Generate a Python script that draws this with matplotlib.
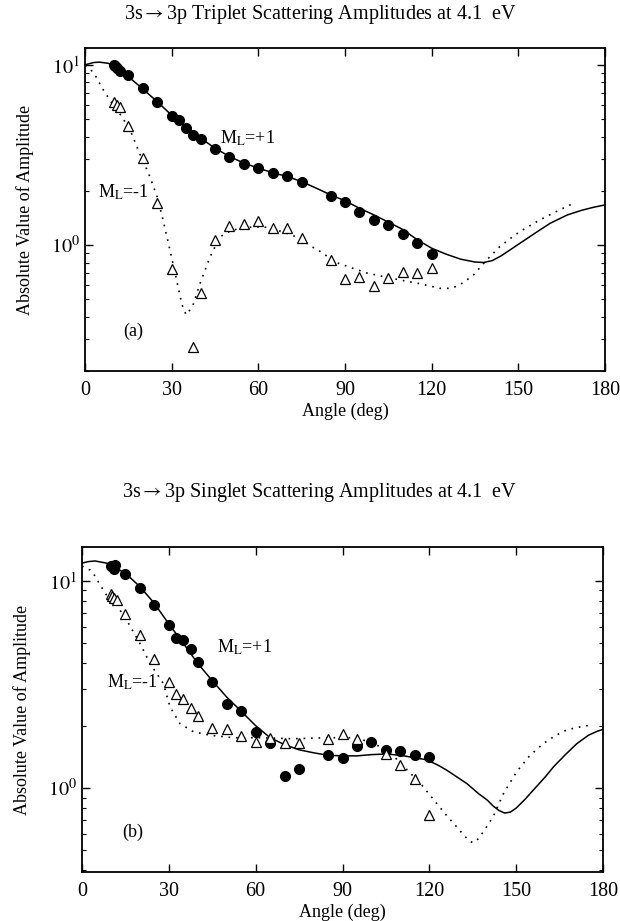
import numpy as np
import matplotlib
matplotlib.use("Agg")
import matplotlib.pyplot as plt
from matplotlib.ticker import LogLocator, NullFormatter, FixedLocator

plt.rcParams['font.family'] = ['Liberation Serif', 'DejaVu Serif']
plt.rcParams['mathtext.fontset'] = 'stix'

# ---------------- Panel (a): triplet ----------------
a_exp_p_x = [10, 10.5, 11, 12, 15, 20, 25, 30, 32.5, 35, 37.5, 40, 45, 50, 55, 60, 65, 70, 75,
             85, 90, 95, 100, 105, 110, 115, 120]
a_exp_p_y = [10.0, 9.8, 9.6, 9.2, 8.8, 7.42, 6.25, 5.23, 4.95, 4.45, 4.08, 3.87, 3.41, 3.09, 2.82,
             2.67, 2.52, 2.42, 2.25, 1.88, 1.73, 1.53, 1.37, 1.29, 1.15, 1.03, 0.89]
a_exp_m_x = [10, 11, 12, 15, 20, 25, 30, 37.5, 40, 45, 50, 55, 60, 65, 70, 75, 85, 90, 95, 100,
             105, 110, 115, 120]
a_exp_m_y = [6.25, 6.0, 5.8, 4.58, 3.03, 1.72, 0.74, 0.272, 0.54, 1.07, 1.27, 1.31, 1.36, 1.25,
             1.24, 1.10, 0.83, 0.645, 0.667, 0.59, 0.653, 0.71, 0.70, 0.75]
a_th_p_x = [0, 3, 5, 8, 10, 12, 15, 20, 25, 30, 35, 40, 45, 50, 55, 60, 65, 70, 75, 80, 85, 90,
            95, 100, 105, 110, 115, 120, 125, 130, 135, 138, 141, 144, 148, 152, 156, 161, 167,
            172, 176, 180]
a_th_p_y = [10.0, 10.3, 10.35, 10.2, 9.9, 9.4, 8.6, 7.35, 6.25, 5.25, 4.5, 3.92, 3.45, 3.1, 2.85,
            2.67, 2.52, 2.40, 2.25, 2.07, 1.9, 1.76, 1.60, 1.47, 1.34, 1.22, 1.07, 0.96, 0.89,
            0.835, 0.805, 0.80, 0.82, 0.87, 0.96, 1.06, 1.17, 1.32, 1.47, 1.56, 1.62, 1.67]
a_th_m_x = [0, 2, 4, 6, 8, 10, 13, 16, 19, 22, 25, 27, 29.4, 31.7, 33.5, 35, 36.5, 37.5, 39.8,
            43.3, 46.7, 50, 53.6, 58, 62, 66.4, 70, 74.4, 78, 82.5, 86, 92, 97.5, 103, 109, 116,
            122.9, 126, 128.7, 131, 134.4, 139, 143.6, 147, 150.6, 157.5, 163, 167.9, 170]
a_th_m_y = [9.9, 9.4, 8.5, 7.4, 6.6, 5.9, 5.1, 4.2, 3.2, 2.5, 1.85, 1.38, 0.94, 0.64, 0.47, 0.41,
            0.44, 0.47, 0.61, 0.86, 1.11, 1.19, 1.24, 1.26, 1.26, 1.21, 1.16, 1.09, 0.99, 0.90, 0.81,
            0.75, 0.70, 0.67, 0.64, 0.61, 0.575, 0.575, 0.59, 0.62, 0.68, 0.825, 0.98, 1.08, 1.19,
            1.38, 1.53, 1.67, 1.72]

# ---------------- Panel (b): singlet ----------------
b_exp_p_x = [10, 10.5, 11.5, 11, 15, 20, 25, 30, 32.5, 35, 37.5, 40, 45, 50, 55, 60, 65, 70, 75,
             85, 90, 95, 100, 105, 110, 115, 120]
b_exp_p_y = [11.8, 11.8, 11.9, 11.4, 10.8, 9.3, 7.65, 6.13, 5.28, 5.19, 4.7, 4.08, 3.25, 2.56,
             2.36, 1.87, 1.65, 1.14, 1.24, 1.44, 1.40, 1.60, 1.67, 1.53, 1.51, 1.44, 1.42]
b_exp_m_x = [10, 10.5, 11, 12, 15, 20, 25, 30, 32.5, 35, 37.5, 40, 45, 50, 55, 60, 65, 70, 75,
             85, 90, 95, 105, 110, 115, 120]
b_exp_m_y = [8.7, 8.5, 8.3, 8.1, 6.93, 5.48, 4.18, 3.26, 2.86, 2.7, 2.43, 2.24, 1.96, 1.92, 1.78,
             1.67, 1.75, 1.65, 1.65, 1.72, 1.82, 1.72, 1.46, 1.29, 1.11, 0.74]
b_th_p_x = [0, 2, 4.5, 8.5, 10, 15, 20, 25, 30, 35, 40, 45, 50, 55, 60, 65, 70, 75,
            80, 85, 90, 95, 100, 105, 110, 115, 119, 123, 126, 130, 133, 137, 140, 142, 144, 146,
            148, 150, 153, 156, 160, 163, 167, 171, 175, 178, 180]
b_th_p_y = [12.2, 12.4, 12.5, 12.2, 11.9, 10.9, 9.4, 7.8, 6.2, 5.0, 4.0, 3.3, 2.75,
            2.35, 2.0, 1.75, 1.62, 1.53, 1.48, 1.44, 1.43, 1.43, 1.45, 1.46, 1.44, 1.40, 1.37,
            1.29, 1.22, 1.12, 1.05, 0.94, 0.875, 0.82, 0.78, 0.757, 0.765, 0.80, 0.88, 0.98, 1.13,
            1.27, 1.45, 1.64, 1.80, 1.88, 1.92]
b_th_m_x = [0, 2.8, 3.9, 6.2, 8.5, 10.8, 15.4, 20, 23.5, 28.1, 30.4, 33.8, 38.5, 44.2, 52.3, 61.5,
            73, 84.5, 92.6, 98.4, 103.2, 107.8, 112.4, 117, 121.6, 126.2, 129, 131.9, 133.5, 135,
            136.5, 138.7, 142.1, 145.6, 150.2, 154.8, 159.4, 163.5, 167.5, 173.3, 176.7]
b_th_m_y = [11.8, 11.3, 10.9, 9.6, 8.55, 8.1, 6.48, 5.0, 4.0, 3.2, 2.47, 2.05, 1.87, 1.80, 1.75,
            1.75, 1.73, 1.75, 1.75, 1.69, 1.58, 1.42, 1.22, 1.05, 0.875, 0.73, 0.66, 0.593, 0.56,
            0.544, 0.56, 0.615, 0.73, 0.94, 1.2, 1.44, 1.64, 1.79, 1.91, 1.99, 2.02]

x_ticks = [0, 30, 60, 90, 120, 150, 180]

fig = plt.figure(figsize=(6.2, 9.21), dpi=100)
ax1 = fig.add_axes([85/620, 1 - 371/921, 520/620, 323/921])
ax2 = fig.add_axes([82/620, 1 - 872/921, 521/620, 325/921])

def style(ax, ylim):
    ax.set_yscale('log')
    ax.set_xlim(0, 180)
    ax.set_ylim(*ylim)
    ax.xaxis.set_major_locator(FixedLocator(x_ticks))
    ax.set_xticklabels([str(t) for t in x_ticks])
    ax.yaxis.set_major_locator(FixedLocator([1, 10]))
    ax.set_yticklabels([r'$10^0$', r'$10^1$'])
    ax.yaxis.set_minor_locator(LogLocator(base=10, subs=np.arange(2, 10), numticks=10))
    ax.yaxis.set_minor_formatter(NullFormatter())
    ax.tick_params(which='both', direction='in', top=True, right=True, labelsize=14.5)
    ax.tick_params(which='major', length=6, width=1)
    ax.tick_params(which='minor', length=3, width=0.8)
    ax.tick_params(axis='x', pad=7)
    for s in ax.spines.values():
        s.set_linewidth(1.3)
    ax.set_xlabel('Angle (deg)', fontsize=13, labelpad=2)
    ax.set_ylabel('Absolute Value of Amplitude', fontsize=13, labelpad=12)

for ax, ylim, thp, thm, exp, exm in [
        (ax1, (0.2, 12.4), (a_th_p_x, a_th_p_y), (a_th_m_x, a_th_m_y),
         (a_exp_p_x, a_exp_p_y), (a_exp_m_x, a_exp_m_y)),
        (ax2, (0.393, 14.6), (b_th_p_x, b_th_p_y), (b_th_m_x, b_th_m_y),
         (b_exp_p_x, b_exp_p_y), (b_exp_m_x, b_exp_m_y))]:
    ax.plot(thp[0], thp[1], '-', color='black', lw=1.1)
    ax.plot(thm[0], thm[1], color='black', lw=1.2, linestyle=(0, (1, 3.5)))
    ax.plot(exp[0], exp[1], 'o', color='black', ms=7, mec='black')
    ax.plot(exm[0], exm[1], '^', mfc='white', mec='black', ms=6.8, mew=0.9, linestyle='none')
    style(ax, ylim)

ax1.text(46.7, 3.93, r'M$_\mathrm{L}$=+1', fontsize=13, va='center', ha='left')
ax1.text(4.5, 1.97, r'M$_\mathrm{L}$=-1', fontsize=13, va='center', ha='left')
ax1.text(13.2, 0.33, '(a)', fontsize=13, va='center', ha='left')
ax2.text(46.6, 4.8, r'M$_\mathrm{L}$=+1', fontsize=13, va='center', ha='left')
ax2.text(8.6, 3.25, r'M$_\mathrm{L}$=-1', fontsize=13, va='center', ha='left')
ax2.text(13.8, 0.61, '(b)', fontsize=13, va='center', ha='left')

fig.text(320/620, 1 - 14/921, r'3s$\rightarrow$3p Triplet Scattering Amplitudes at 4.1  eV',
         fontsize=14.5, ha='center', va='center')
fig.text(320/620, 1 - 492/921, r'3s$\rightarrow$3p Singlet Scattering Amplitudes at 4.1  eV',
         fontsize=14.5, ha='center', va='center')

fig.savefig('out.png', dpi=100)
